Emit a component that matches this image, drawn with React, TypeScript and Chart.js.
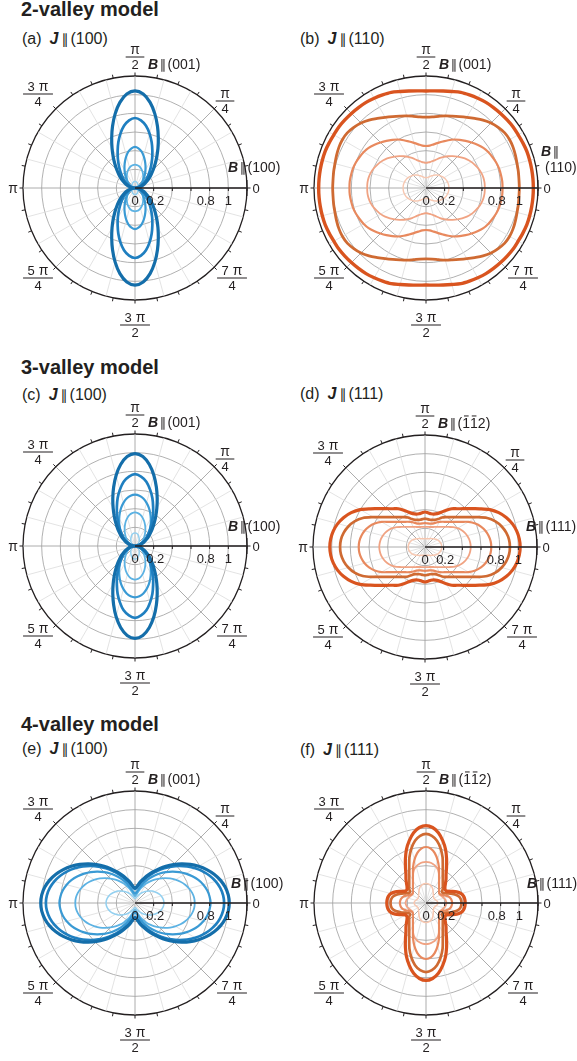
import React, { useEffect, useRef } from 'react';
import { Chart, registerables } from 'chart.js';

Chart.register(...registerables);

const FONT = '"Liberation Sans", Arial, Helvetica, "DejaVu Sans", sans-serif';
const PAR_FONT = '"DejaVu Sans", sans-serif';
const INK = '#231f20';

// ---------- data ----------
// radius values sampled every 5 degrees over one quadrant (0..90 deg);
// every curve is mirror-symmetric about both axes, so the other quadrants reuse them.
const QUAD_ANGLES = [0, 5, 10, 15, 20, 25, 30, 35, 40, 45, 50, 55, 60, 65, 70, 75, 80, 85, 90];
const ANGLE_STEP = 5;
const R_MAX = 1.2;
const R_STEP = 0.2;
const RADIAL_TICK_VALUES = [0, 0.2, 0.8, 1];
const RADIAL_TICK_LABELS = ['0', '0.2', '0.8', '1'];

// (a) 2-valley, J || (100)
const A1 = [0, 0.021, 0.043, 0.066, 0.09, 0.118, 0.149, 0.185, 0.226, 0.276, 0.335, 0.407, 0.492, 0.591, 0.704, 0.822, 0.931, 1.01, 1.04];
const A2 = [0, 0.015, 0.031, 0.048, 0.065, 0.085, 0.112, 0.139, 0.17, 0.207, 0.252, 0.305, 0.368, 0.44, 0.522, 0.603, 0.677, 0.728, 0.75];
const A3 = [0, 0.009, 0.018, 0.028, 0.038, 0.05, 0.069, 0.086, 0.105, 0.128, 0.155, 0.187, 0.224, 0.266, 0.31, 0.356, 0.398, 0.427, 0.44];
const A4 = [0, 0.011, 0.022, 0.033, 0.045, 0.057, 0.07, 0.084, 0.1, 0.116, 0.134, 0.153, 0.172, 0.191, 0.209, 0.226, 0.239, 0.247, 0.25];
const A5 = [0, 0.005, 0.01, 0.015, 0.02, 0.025, 0.03, 0.035, 0.04, 0.044, 0.048, 0.052, 0.056, 0.06, 0.063, 0.066, 0.068, 0.07, 0.07];

// (b) 2-valley, J || (110)
const B1 = [1.15, 1.15, 1.15, 1.15, 1.15, 1.145, 1.14, 1.14, 1.135, 1.13, 1.125, 1.12, 1.11, 1.1, 1.09, 1.07, 1.055, 1.045, 1.04];
const B2 = [1.0, 1.0, 1.005, 1.01, 1.02, 1.03, 1.035, 1.03, 1.01, 0.985, 0.95, 0.91, 0.875, 0.845, 0.82, 0.8, 0.78, 0.765, 0.76];
const B3 = [0.82, 0.82, 0.815, 0.81, 0.8, 0.785, 0.77, 0.75, 0.72, 0.69, 0.66, 0.63, 0.6, 0.565, 0.53, 0.5, 0.475, 0.455, 0.45];
const B4 = [0.63, 0.63, 0.625, 0.615, 0.6, 0.58, 0.56, 0.535, 0.505, 0.475, 0.445, 0.415, 0.385, 0.355, 0.325, 0.3, 0.285, 0.275, 0.27];
const B5 = [0.245, 0.245, 0.243, 0.24, 0.235, 0.23, 0.222, 0.213, 0.203, 0.193, 0.182, 0.17, 0.157, 0.145, 0.133, 0.123, 0.116, 0.112, 0.11];

// (c) 3-valley, J || (100)
const C1 = [0, 0.02, 0.041, 0.063, 0.086, 0.112, 0.142, 0.176, 0.215, 0.263, 0.319, 0.387, 0.468, 0.563, 0.67, 0.783, 0.886, 0.962, 0.99];
const C2 = [0, 0.016, 0.032, 0.049, 0.067, 0.087, 0.117, 0.145, 0.177, 0.216, 0.263, 0.319, 0.386, 0.46, 0.545, 0.625, 0.7, 0.747, 0.77];
const C3 = [0, 0.018, 0.037, 0.057, 0.077, 0.1, 0.124, 0.151, 0.181, 0.215, 0.252, 0.294, 0.339, 0.387, 0.435, 0.479, 0.516, 0.541, 0.55];
const C4 = [0, 0.012, 0.024, 0.037, 0.05, 0.066, 0.081, 0.099, 0.119, 0.141, 0.165, 0.193, 0.222, 0.253, 0.285, 0.314, 0.338, 0.354, 0.36];
const C5 = [0, 0.005, 0.01, 0.016, 0.022, 0.028, 0.035, 0.042, 0.05, 0.06, 0.07, 0.08, 0.09, 0.1, 0.114, 0.125, 0.133, 0.138, 0.14];

// (d) 3-valley, J || (111)
const D1 = [1.02, 1.014, 0.997, 0.968, 0.926, 0.872, 0.802, 0.714, 0.638, 0.58, 0.535, 0.5, 0.455, 0.41, 0.38, 0.365, 0.362, 0.368, 0.375];
const D2 = [0.91, 0.904, 0.884, 0.851, 0.803, 0.735, 0.64, 0.558, 0.498, 0.453, 0.418, 0.391, 0.365, 0.33, 0.31, 0.3, 0.296, 0.3, 0.305];
const D3 = [0.71, 0.706, 0.692, 0.67, 0.638, 0.595, 0.538, 0.47, 0.42, 0.382, 0.352, 0.33, 0.31, 0.29, 0.27, 0.26, 0.255, 0.255, 0.256];
const D4 = [0.49, 0.487, 0.48, 0.468, 0.452, 0.43, 0.403, 0.371, 0.334, 0.304, 0.281, 0.262, 0.248, 0.237, 0.228, 0.222, 0.218, 0.216, 0.215];
const D5 = [0.18, 0.179, 0.177, 0.173, 0.168, 0.161, 0.153, 0.144, 0.134, 0.125, 0.117, 0.11, 0.104, 0.099, 0.095, 0.093, 0.091, 0.09, 0.09];

// (e) 4-valley, J || (100)
const E1 = [1.01, 1.003, 0.981, 0.947, 0.902, 0.848, 0.787, 0.722, 0.653, 0.584, 0.515, 0.446, 0.385, 0.33, 0.28, 0.24, 0.2, 0.17, 0.16];
const E2 = [0.955, 0.948, 0.927, 0.895, 0.852, 0.801, 0.744, 0.682, 0.617, 0.552, 0.487, 0.421, 0.36, 0.305, 0.26, 0.22, 0.185, 0.16, 0.15];
const E3 = [0.81, 0.802, 0.785, 0.758, 0.722, 0.678, 0.63, 0.578, 0.522, 0.467, 0.412, 0.357, 0.302, 0.25, 0.2, 0.155, 0.125, 0.108, 0.1];
const E4 = [0.64, 0.636, 0.622, 0.6, 0.572, 0.538, 0.499, 0.458, 0.414, 0.37, 0.327, 0.283, 0.24, 0.198, 0.157, 0.12, 0.095, 0.08, 0.075];
const E5 = [0.31, 0.308, 0.301, 0.291, 0.277, 0.26, 0.242, 0.222, 0.2, 0.179, 0.158, 0.137, 0.116, 0.096, 0.078, 0.064, 0.055, 0.05, 0.048];

// (f) 4-valley, J || (111)
const F1 = [0.42, 0.418, 0.41, 0.39, 0.35, 0.295, 0.255, 0.25, 0.265, 0.295, 0.334, 0.375, 0.44, 0.522, 0.612, 0.692, 0.765, 0.812, 0.83];
const F2 = [0.38, 0.377, 0.365, 0.335, 0.29, 0.245, 0.215, 0.21, 0.235, 0.255, 0.28, 0.314, 0.36, 0.426, 0.52, 0.605, 0.677, 0.722, 0.74];
const F3 = [0.28, 0.277, 0.27, 0.255, 0.23, 0.2, 0.18, 0.175, 0.183, 0.198, 0.218, 0.244, 0.28, 0.331, 0.405, 0.478, 0.543, 0.585, 0.6];
const F4 = [0.22, 0.215, 0.21, 0.2, 0.19, 0.18, 0.175, 0.175, 0.183, 0.198, 0.218, 0.244, 0.28, 0.331, 0.377, 0.406, 0.425, 0.436, 0.44];
const F5 = [0.128, 0.125, 0.12, 0.113, 0.107, 0.102, 0.1, 0.1, 0.105, 0.113, 0.122, 0.135, 0.15, 0.168, 0.183, 0.195, 0.203, 0.208, 0.21];

// ---------- styles ----------
const BLUES = ['#146eaa', '#1f7fc0', '#3a9ad4', '#5cb2e3', '#93d0f0'];
const ORANGES = ['#d9541f', '#cf6a32', '#e8895e', '#f0a383', '#f7c7b0'];
const WIDTHS = [3.2, 2.7, 2.2, 1.8, 1.5];

const SPOKE_STEP = 15;
const OUTER_TICK_STEP = 11.25;

const FULL_LABELS: string[] = [];
for (let i = 0; i < 360 / ANGLE_STEP; i++) FULL_LABELS.push(String(i * ANGLE_STEP));

function fullTurn(q: number[]): number[] {
  const out: number[] = [];
  for (let i = 0; i < 360 / ANGLE_STEP; i++) {
    let a = (i * ANGLE_STEP) % 180;
    if (a > 90) a = 180 - a;
    out.push(q[QUAD_ANGLES.indexOf(a)]);
  }
  return out;
}

type Seg = { t: string; b?: boolean; i?: boolean; over?: boolean; size?: number; gap?: number; fam?: string };

// angle labels: numerator parts, denominator, offset of the fraction bar from the plot centre
const ANGLE_LABELS: { num: string[]; den?: string; dx: number; dy: number }[] = [
  { num: ['0'], dx: 121, dy: 0 },
  { num: ['π'], den: '4', dx: 90, dy: -87 },
  { num: ['π'], den: '2', dx: 0, dy: -131 },
  { num: ['3', 'π'], den: '4', dx: -97, dy: -94 },
  { num: ['π'], dx: -122, dy: 0 },
  { num: ['5', 'π'], den: '4', dx: -97, dy: 90 },
  { num: ['3', 'π'], den: '2', dx: 0, dy: 137 },
  { num: ['7', 'π'], den: '4', dx: 97, dy: 90 },
];

const PAR: Seg = { t: '∥', size: 13, gap: 1.5, fam: PAR_FONT };
const BB: Seg = { t: 'B', b: true, i: true, gap: 1.5 };
const B_001: Seg[] = [BB, PAR, { t: '(001)' }];
const B_100: Seg[] = [BB, PAR, { t: '(100)' }];
const B_111: Seg[] = [BB, PAR, { t: '(111)' }];
const B_112: Seg[] = [BB, PAR, { t: '(' }, { t: '1', over: true }, { t: '1', over: true }, { t: '2' }, { t: ')' }];
const B_110a: Seg[] = [BB, PAR];
const B_110b: Seg[] = [{ t: '(110)' }];

type PanelCfg = {
  cx: number;
  cy: number;
  curves: number[][];
  colors: string[];
  widths: number[];
  topB: Seg[];
  rightB: { segs: Seg[]; dx: number; dy: number }[];
};

const PANELS: PanelCfg[] = [
  { cx: 135, cy: 188, curves: [A1, A2, A3, A4, A5], colors: BLUES, widths: WIDTHS, topB: B_001, rightB: [{ segs: B_100, dx: 93, dy: -16 }] },
  {
    cx: 426, cy: 188, curves: [B1, B2, B3, B4, B5], colors: ORANGES, widths: [3.4, 2.8, 2.2, 1.8, 1.4], topB: B_001,
    rightB: [{ segs: B_110a, dx: 115, dy: -32 }, { segs: B_110b, dx: 119, dy: -16 }],
  },
  { cx: 135, cy: 546, curves: [C1, C2, C3, C4, C5], colors: BLUES, widths: WIDTHS, topB: B_001, rightB: [{ segs: B_100, dx: 93, dy: -15 }] },
  { cx: 425, cy: 547, curves: [D1, D2, D3, D4, D5], colors: ORANGES, widths: WIDTHS, topB: B_112, rightB: [{ segs: B_111, dx: 101, dy: -16 }] },
  { cx: 135, cy: 903, curves: [E1, E2, E3, E4, E5], colors: BLUES, widths: WIDTHS, topB: B_001, rightB: [{ segs: B_100, dx: 96, dy: -15 }] },
  { cx: 426, cy: 903, curves: [F1, F2, F3, F4, F5], colors: ORANGES, widths: WIDTHS, topB: B_112, rightB: [{ segs: B_111, dx: 101, dy: -15 }] },
];

const SECTION_TITLES = [
  { text: '2-valley model', top: -1 },
  { text: '3-valley model', top: 357 },
  { text: '4-valley model', top: 714 },
];

const PANEL_LABELS = [
  { tag: '(a)', dir: '(100)', left: 22, top: 31 },
  { tag: '(b)', dir: '(110)', left: 300, top: 31 },
  { tag: '(c)', dir: '(100)', left: 22, top: 387 },
  { tag: '(d)', dir: '(111)', left: 300, top: 386 },
  { tag: '(e)', dir: '(100)', left: 22, top: 741 },
  { tag: '(f)', dir: '(111)', left: 300, top: 742 },
];

// ---------- drawing helpers ----------
function setFont(ctx: CanvasRenderingContext2D, size: number, bold = false, italic = false, fam = FONT) {
  ctx.font = `${italic ? 'italic ' : ''}${bold ? 'bold ' : ''}${size}px ${fam}`;
}

function drawSegs(ctx: CanvasRenderingContext2D, x: number, y: number, segs: Seg[]) {
  let px = x;
  ctx.textAlign = 'left';
  ctx.textBaseline = 'alphabetic';
  ctx.fillStyle = INK;
  for (const s of segs) {
    const size = s.size ?? 14;
    setFont(ctx, size, s.b, s.i, s.fam ?? FONT);
    ctx.fillText(s.t, px, y);
    const w = ctx.measureText(s.t).width;
    if (s.over) {
      ctx.fillRect(px + w * 0.22, y - size * 0.86, w * 0.6, 1);
    }
    px += w + (s.gap ?? 0);
  }
}

const NUM_SIZE = 13;
const PI_SIZE = 14;
const NUM_GAP = 4;

function drawFrac(ctx: CanvasRenderingContext2D, x: number, y: number, num: string[], den?: string) {
  ctx.textBaseline = 'alphabetic';
  ctx.textAlign = 'left';
  ctx.fillStyle = INK;
  const widths = num.map((p) => {
    setFont(ctx, p === 'π' ? PI_SIZE : NUM_SIZE);
    return ctx.measureText(p).width;
  });
  const numW = widths.reduce((a, b) => a + b, 0) + NUM_GAP * (num.length - 1);
  const baseY = den ? y - 3.5 : y + 4.5;
  let px = x - numW / 2;
  num.forEach((p, k) => {
    setFont(ctx, p === 'π' ? PI_SIZE : NUM_SIZE);
    ctx.fillText(p, px, baseY);
    px += widths[k] + NUM_GAP;
  });
  if (den) {
    setFont(ctx, NUM_SIZE);
    const denW = ctx.measureText(den).width;
    const barW = Math.max(numW, denW) + 9;
    ctx.fillRect(x - barW / 2, y - 0.5, barW, 1);
    ctx.textAlign = 'center';
    ctx.fillText(den, x, y + 12);
  }
}

function makeDeco(cfg: PanelCfg) {
  return {
    id: 'polarDeco',
    beforeDatasetsDraw(chart: any) {
      const s = chart.scales.r;
      const ctx: CanvasRenderingContext2D = chart.ctx;
      const R = s.drawingArea;
      const cx = s.xCenter;
      const cy = s.yCenter;
      ctx.save();
      for (let a = 0; a < 360; a += SPOKE_STEP) {
        const major = a % 45 === 0;
        ctx.beginPath();
        ctx.strokeStyle = major ? '#a3a3a3' : '#dcdcdc';
        ctx.lineWidth = major ? 0.9 : 0.8;
        ctx.moveTo(cx, cy);
        ctx.lineTo(cx + R * Math.cos((a * Math.PI) / 180), cy - R * Math.sin((a * Math.PI) / 180));
        ctx.stroke();
      }
      ctx.restore();
    },
    afterDatasetsDraw(chart: any) {
      const s = chart.scales.r;
      const ctx: CanvasRenderingContext2D = chart.ctx;
      const R = s.drawingArea;
      const cx = s.xCenter;
      const cy = s.yCenter;
      ctx.save();
      // outer frame ticks
      ctx.strokeStyle = INK;
      ctx.lineWidth = 1;
      for (let a = 0; a < 360; a += OUTER_TICK_STEP) {
        const c = Math.cos((a * Math.PI) / 180);
        const sn = Math.sin((a * Math.PI) / 180);
        ctx.beginPath();
        ctx.moveTo(cx + R * c, cy - R * sn);
        ctx.lineTo(cx + (R + 3.5) * c, cy - (R + 3.5) * sn);
        ctx.stroke();
      }
      // radial axis along theta = 0
      ctx.beginPath();
      ctx.lineWidth = 1.3;
      ctx.moveTo(cx, cy);
      ctx.lineTo(cx + R, cy);
      ctx.stroke();
      ctx.lineWidth = 1;
      for (let v = R_STEP; v < R_MAX + 1e-6; v += R_STEP) {
        const px = cx + s.getDistanceFromCenterForValue(v);
        ctx.beginPath();
        ctx.moveTo(px, cy);
        ctx.lineTo(px, cy + 3);
        ctx.stroke();
      }
      ctx.beginPath();
      ctx.moveTo(cx + R, cy - 8);
      ctx.lineTo(cx + R, cy + 8);
      ctx.stroke();
      ctx.fillStyle = INK;
      ctx.textAlign = 'center';
      ctx.textBaseline = 'alphabetic';
      setFont(ctx, 13);
      RADIAL_TICK_VALUES.forEach((v, k) => {
        const d = s.getDistanceFromCenterForValue(v);
        const shift = k === 1 ? 1.5 : k === 2 ? -4 : 0;
        ctx.fillText(RADIAL_TICK_LABELS[k], cx + d + shift, cy + 17);
      });
      // angle labels
      ANGLE_LABELS.forEach((l) => drawFrac(ctx, cx + l.dx, cy + l.dy, l.num, l.den));
      // direction labels
      drawSegs(ctx, cx + 13, cy - 119.5, cfg.topB);
      cfg.rightB.forEach((rb) => drawSegs(ctx, cx + rb.dx, cy + rb.dy, rb.segs));
      ctx.restore();
    },
  };
}

const CANVAS_W = 288;
const CANVAS_H = 335;

function PolarPanel({ cfg }: { cfg: PanelCfg }) {
  const ref = useRef<HTMLCanvasElement>(null);
  useEffect(() => {
    const canvas = ref.current;
    if (!canvas) return;
    const chart = new Chart(canvas, {
      type: 'radar',
      data: {
        labels: FULL_LABELS,
        datasets: cfg.curves.map((q, k) => ({
          data: fullTurn(q),
          borderColor: cfg.colors[k],
          borderWidth: cfg.widths[k],
          backgroundColor: 'rgba(0,0,0,0)',
          pointRadius: 0,
          pointHoverRadius: 0,
          fill: false,
          tension: 0.3,
        })),
      },
      options: {
        responsive: false,
        animation: false,
        events: [],
        layout: { padding: { left: 23, right: CANVAS_W - 23 - 224, top: 48, bottom: CANVAS_H - 48 - 224 } },
        plugins: { legend: { display: false }, tooltip: { enabled: false } },
        scales: {
          r: {
            min: 0,
            max: R_MAX,
            startAngle: 90,
            ticks: { display: false, stepSize: R_STEP },
            pointLabels: { display: false },
            angleLines: { display: false },
            grid: {
              circular: true,
              color: (c: any) => (c.tick && c.tick.value > R_MAX - 0.01 ? INK : '#a8a8a8'),
              lineWidth: (c: any) => (c.tick && c.tick.value > R_MAX - 0.01 ? 1.3 : 0.9),
            },
          },
        },
      } as any,
      plugins: [makeDeco(cfg) as any],
    });
    return () => chart.destroy();
  }, [cfg]);
  return (
    <canvas
      ref={ref}
      width={CANVAS_W}
      height={CANVAS_H}
      style={{ position: 'absolute', left: cfg.cx - 135, top: cfg.cy - 160, width: CANVAS_W, height: CANVAS_H }}
    />
  );
}

export default function App() {
  return (
    <div
      style={{
        position: 'absolute',
        left: 0,
        top: 0,
        width: 577,
        height: 1061,
        overflow: 'hidden',
        background: '#fff',
        fontFamily: FONT,
        color: INK,
      }}
    >
      {SECTION_TITLES.map((t) => (
        <div
          key={t.text}
          style={{ position: 'absolute', left: 21, top: t.top, fontSize: 20, lineHeight: '20px', fontWeight: 'bold', whiteSpace: 'nowrap' }}
        >
          {t.text}
        </div>
      ))}
      {PANEL_LABELS.map((p) => (
        <div
          key={p.tag}
          style={{ position: 'absolute', left: p.left, top: p.top, fontSize: 16, lineHeight: '16px', whiteSpace: 'nowrap' }}
        >
          <span>{p.tag}</span>
          <span style={{ fontWeight: 'bold', fontStyle: 'italic', marginLeft: 8 }}>J</span>
          <span style={{ marginLeft: 3, fontSize: 14, fontFamily: PAR_FONT }}>∥</span>
          <span style={{ marginLeft: 2 }}>{p.dir}</span>
        </div>
      ))}
      {PANELS.map((cfg, k) => (
        <PolarPanel key={k} cfg={cfg} />
      ))}
    </div>
  );
}
